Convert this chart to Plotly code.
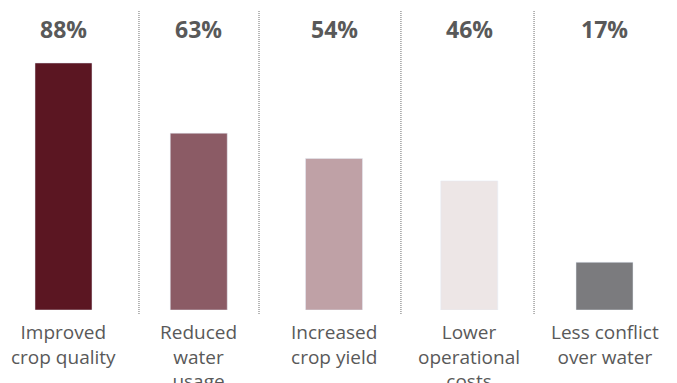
import plotly.graph_objects as go

categories = ["Improved<br>crop quality", "Reduced<br>water<br>usage", "Increased<br>crop yield",
              "Lower<br>operational<br>costs", "Less conflict<br>over water"]
values = [88, 63, 54, 46, 17]
value_labels = ["88%", "63%", "54%", "46%", "17%"]
colors = ["#5B1622", "#8B5B65", "#BFA1A6", "#EDE6E6", "#7B7B7E"]
separators = [0.558, 1.4455, 2.495, 3.479]

x = list(range(len(categories)))

fig = go.Figure(go.Bar(x=x, y=values, marker_color=colors, width=0.4214,
                       hoverinfo="skip"))

font_family = "Open Sans, Noto Sans, sans-serif"
text_color = "#595959"

for xi, lab in zip(x, value_labels):
    fig.add_annotation(x=xi, xref="x", y=(310 - 29) / 310, yref="paper",
                       text=f"<b>{lab}</b>", showarrow=False, yanchor="middle",
                       font=dict(family=font_family, size=23, color=text_color))

for xi, cat in zip(x, categories):
    fig.add_annotation(x=xi, xref="x", y=0, yref="paper", yanchor="top", yshift=-7,
                       text=cat, showarrow=False, align="center",
                       font=dict(family=font_family, size=19, color=text_color))

for s in separators:
    fig.add_shape(type="line", xref="x", yref="paper", x0=s, x1=s,
                  y0=-4 / 310, y1=(310 - 10) / 310,
                  line=dict(color="#6E6E6E", width=1, dash="1px,1px"))

fig.update_layout(
    width=677, height=383,
    margin=dict(l=0, r=0, t=0, b=73),
    paper_bgcolor="white", plot_bgcolor="white",
    showlegend=False,
    xaxis=dict(range=[-0.4695, 4.536], visible=False, fixedrange=True),
    yaxis=dict(range=[0, 310 / 2.807], visible=False, fixedrange=True),
)

fig.write_html("out.html")
